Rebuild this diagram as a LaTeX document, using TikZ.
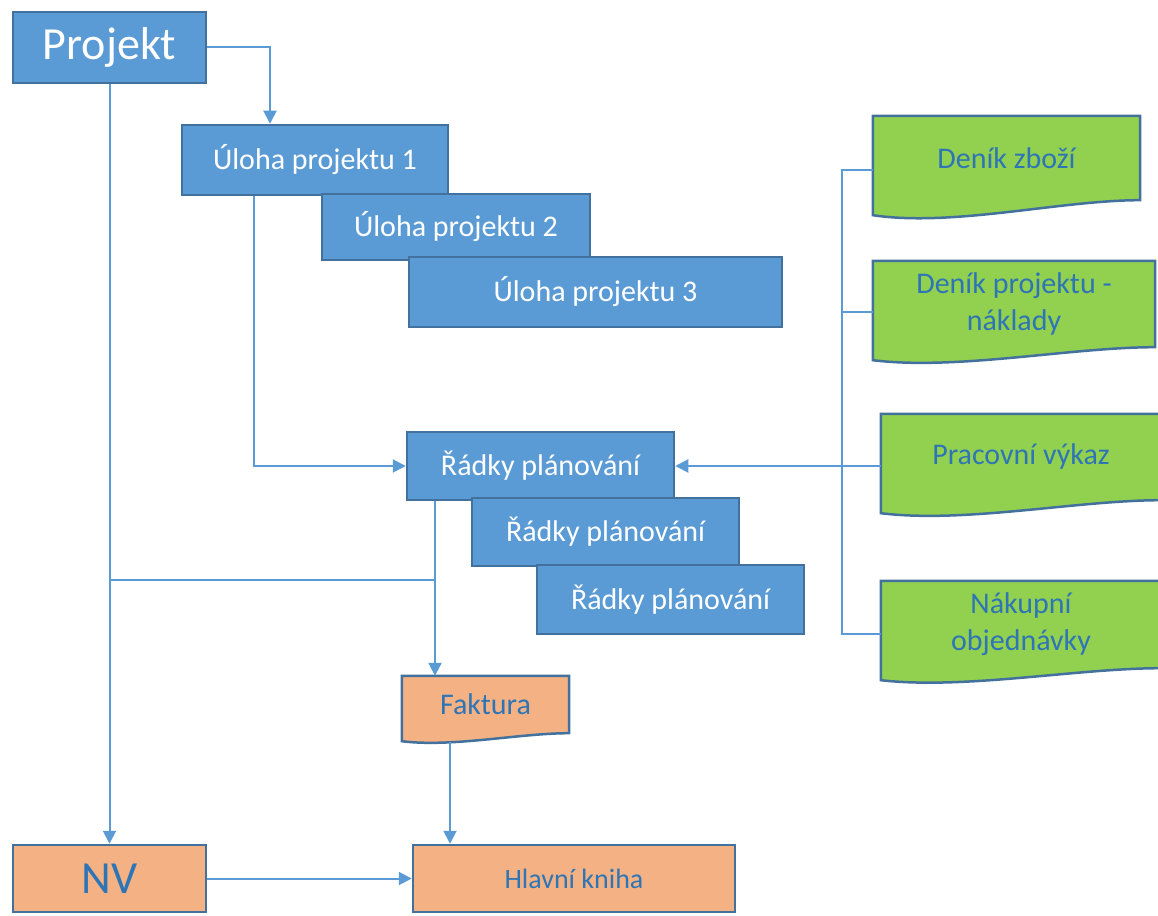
\documentclass[tikz,border=0pt]{standalone}
\usepackage{fontspec}
\setmainfont{Carlito}
\usetikzlibrary{arrows.meta}
\usetikzlibrary{calc}
\usetikzlibrary{backgrounds}

\definecolor{boxblue}{HTML}{5B9BD5}
\definecolor{boxline}{HTML}{41719C}
\definecolor{boxgreen}{HTML}{92D050}
\definecolor{boxorange}{HTML}{F4B183}
\definecolor{textblue}{HTML}{2E75B6}

% document shape with a wavy bottom, drawn behind the node
\newcommand{\docframe}[3]{%
  \begin{pgfonlayer}{background}
    \filldraw[fill=#2,draw=boxline,line width=2.5pt]
      (#1.north west) -- (#1.north east) -- (#1.south east)
      .. controls ($(#1.south east)!0.3!(#1.south west)$)
      and ($(#1.south east)!0.7!(#1.south west)+(0,-1.8*#3)$)
      .. ($(#1.south west)+(0,-#3)$) -- cycle;
  \end{pgfonlayer}}

\begin{document}
\begin{tikzpicture}[x=1pt,y=1pt,
    task/.style={draw=boxline,line width=2.5pt,fill=boxblue,text=white,inner sep=0pt,
      font=\fontsize{30}{36}\selectfont},
    book/.style={draw=boxline,line width=2.5pt,fill=boxorange,text=textblue,inner sep=0pt},
    docbox/.style={inner sep=0pt,text=textblue,align=center,font=\fontsize{30}{37}\selectfont},
    flow/.style={draw=boxblue,line width=2pt,-{Triangle[width=13pt,length=13pt]}},
    link/.style={draw=boxblue,line width=2pt}]
    \useasboundingbox (0,0) rectangle (1158,915);

    % project and its tasks
    \node [task,font=\fontsize{46}{50}\selectfont,minimum width=193pt,minimum height=71pt] (proj) at (109.5,867.5) {Projekt};
    \node [task,minimum width=266pt,minimum height=70pt] (task1) at (315,755) {Úloha projektu 1};
    \node [task,minimum width=268pt,minimum height=66pt] (task2) at (456,688) {Úloha projektu 2};
    \node [task,minimum width=373pt,minimum height=70pt] (task3) at (595.5,623) {Úloha projektu 3};

    % planning lines
    \node [task,minimum width=267pt,minimum height=68pt] (plan1) at (540.5,449) {Řádky plánování};
    \node [task,minimum width=267pt,minimum height=68pt] (plan2) at (605.5,383) {Řádky plánování};
    \node [task,minimum width=267pt,minimum height=69pt] (plan3) at (670.5,315.5) {Řádky plánování};

    % journals
    \node [docbox,minimum width=267pt,minimum height=84pt] (goods) at (1006.5,757) {Deník zboží};
    \docframe{goods}{boxgreen}{15}
    \node [docbox,minimum width=282pt,minimum height=86pt] (projj) at (1014,611) {Deník projektu -\\náklady};
    \docframe{projj}{boxgreen}{13}
    \node [docbox,minimum width=280pt,minimum height=86pt] (timesheet) at (1021,458) {Pracovní výkaz};
    \docframe{timesheet}{boxgreen}{13}
    \node [docbox,minimum width=280pt,minimum height=87pt] (purchase) at (1021,290.5) {Nákupní\\objednávky};
    \docframe{purchase}{boxgreen}{12}

    % invoice and ledger
    \node [docbox,minimum width=167pt,minimum height=57pt] (invoice) at (485.5,210.5) {Faktura};
    \docframe{invoice}{boxorange}{8}
    \node [book,font=\fontsize{46}{50}\selectfont,minimum width=193pt,minimum height=67pt] (nv) at (109.5,36.5) {NV};
    \node [book,font=\fontsize{28}{34}\selectfont,minimum width=322pt,minimum height=67pt] (ledger) at (574,36.5) {Hlavní kniha};

    % connectors
    \coordinate (join) at (435,335);
    \coordinate (bus) at (842,0);
    \coordinate (goodsin) at ([yshift=-12pt]goods.west);
    \coordinate (projjin) at ([yshift=-8pt]projj.west);
    \coordinate (purchasein) at ([yshift=-10pt]purchase.west);
    \draw [flow] (proj.east) -| ([xshift=-45pt]task1.north);
    \draw [flow] (proj) -- (nv);
    \draw [flow] ([xshift=-61pt]task1.south) |- (plan1.west);
    \draw [flow] ([xshift=-105.5pt]plan1.south) coordinate (p) -- (p |- invoice.north);
    \draw [link] (join) -- (join -| proj);
    \draw [flow] ([xshift=-35.5pt,yshift=-9pt]invoice.south) coordinate (q) -- (q |- ledger.north);
    \draw [flow] (nv) -- (ledger);
    \draw [flow] (timesheet.west |- plan1) -- (plan1);
    \draw [link] (goodsin) -- (bus |- goodsin) -- (bus |- purchasein) -- (purchasein);
    \draw [link] (projjin) -- (bus |- projjin);
\end{tikzpicture}
\end{document}
